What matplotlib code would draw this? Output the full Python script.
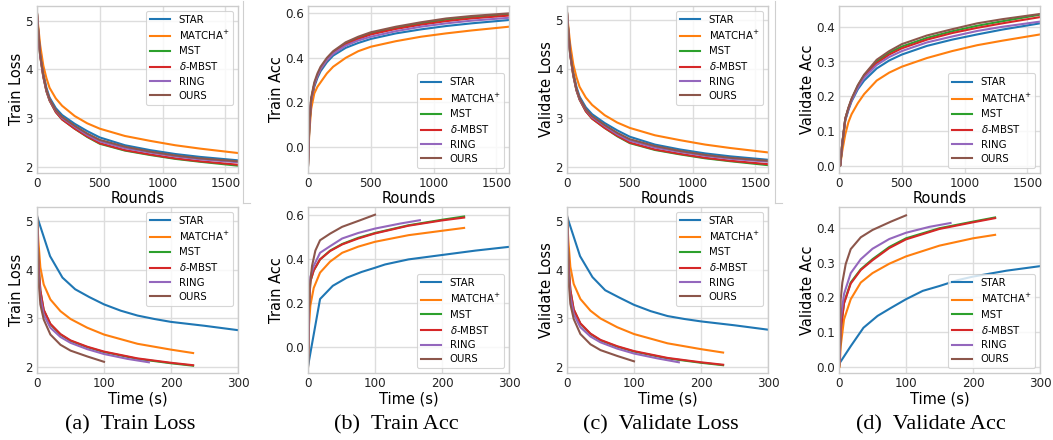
import matplotlib
matplotlib.use("Agg")
import matplotlib.pyplot as plt
from matplotlib.lines import Line2D

# ---------------- data ----------------
methods = ["STAR", "MATCHA", "MST", "MBST", "RING", "OURS"]
labels = ["STAR", "MATCHA$^{+}$", "MST", r"$\delta$-MBST", "RING", "OURS"]
colors = ["#1f77b4", "#ff7f0e", "#2ca02c", "#d62728", "#9467bd", "#8c564b"]

# top row: metric vs. communication rounds
rounds = [0, 10, 25, 50, 75, 100, 150, 200, 300, 400, 500, 700, 900, 1100, 1300, 1600]

train_loss_r = {
    "STAR":   [5.15, 4.80, 4.35, 3.92, 3.62, 3.42, 3.20, 3.06, 2.88, 2.73, 2.60, 2.44, 2.34, 2.26, 2.20, 2.13],
    "MATCHA": [5.15, 4.88, 4.50, 4.08, 3.82, 3.62, 3.40, 3.25, 3.04, 2.89, 2.78, 2.63, 2.53, 2.44, 2.37, 2.28],
    "MST":    [5.15, 4.75, 4.28, 3.85, 3.55, 3.36, 3.12, 2.97, 2.78, 2.61, 2.47, 2.33, 2.24, 2.16, 2.10, 2.02],
    "MBST":   [5.15, 4.75, 4.28, 3.85, 3.55, 3.36, 3.12, 2.97, 2.78, 2.62, 2.48, 2.34, 2.25, 2.17, 2.11, 2.04],
    "RING":   [5.15, 4.77, 4.30, 3.87, 3.57, 3.38, 3.15, 3.00, 2.82, 2.65, 2.52, 2.38, 2.29, 2.21, 2.15, 2.09],
    "OURS":   [5.15, 4.78, 4.31, 3.88, 3.58, 3.39, 3.16, 3.02, 2.84, 2.68, 2.55, 2.41, 2.31, 2.23, 2.17, 2.11],
}
train_acc_r = {
    "STAR":   [-0.085, 0.08, 0.20, 0.27, 0.31, 0.34, 0.38, 0.41, 0.445, 0.467, 0.485, 0.51, 0.528, 0.543, 0.555, 0.57],
    "MATCHA": [-0.085, 0.06, 0.17, 0.24, 0.27, 0.29, 0.33, 0.36, 0.40, 0.43, 0.45, 0.475, 0.495, 0.51, 0.523, 0.54],
    "MST":    [-0.085, 0.09, 0.21, 0.28, 0.32, 0.35, 0.39, 0.425, 0.465, 0.49, 0.51, 0.535, 0.555, 0.572, 0.583, 0.597],
    "MBST":   [-0.085, 0.09, 0.21, 0.28, 0.32, 0.35, 0.39, 0.42, 0.46, 0.485, 0.505, 0.53, 0.549, 0.565, 0.577, 0.59],
    "RING":   [-0.085, 0.09, 0.21, 0.28, 0.32, 0.35, 0.39, 0.418, 0.455, 0.478, 0.495, 0.52, 0.54, 0.555, 0.567, 0.58],
    "OURS":   [-0.085, 0.10, 0.22, 0.29, 0.33, 0.36, 0.40, 0.43, 0.47, 0.495, 0.515, 0.54, 0.56, 0.577, 0.588, 0.60],
}
val_loss_r = {
    "STAR":   [5.15, 4.80, 4.36, 3.93, 3.63, 3.43, 3.21, 3.07, 2.89, 2.74, 2.61, 2.45, 2.35, 2.27, 2.21, 2.14],
    "MATCHA": [5.15, 4.88, 4.51, 4.09, 3.83, 3.63, 3.41, 3.26, 3.05, 2.90, 2.79, 2.64, 2.54, 2.45, 2.38, 2.29],
    "MST":    [5.15, 4.75, 4.29, 3.86, 3.56, 3.37, 3.13, 2.98, 2.79, 2.62, 2.48, 2.34, 2.25, 2.17, 2.11, 2.03],
    "MBST":   [5.15, 4.75, 4.29, 3.86, 3.56, 3.37, 3.13, 2.98, 2.79, 2.63, 2.49, 2.35, 2.26, 2.18, 2.12, 2.05],
    "RING":   [5.15, 4.77, 4.31, 3.88, 3.58, 3.39, 3.16, 3.01, 2.83, 2.66, 2.53, 2.39, 2.30, 2.22, 2.16, 2.10],
    "OURS":   [5.15, 4.78, 4.32, 3.89, 3.59, 3.40, 3.17, 3.03, 2.85, 2.69, 2.56, 2.42, 2.32, 2.24, 2.18, 2.12],
}
val_acc_r = {
    "STAR":   [0.0, 0.0, 0.06, 0.13, 0.16, 0.185, 0.22, 0.245, 0.28, 0.303, 0.32, 0.345, 0.363, 0.378, 0.392, 0.41],
    "MATCHA": [0.0, 0.0, 0.04, 0.09, 0.125, 0.148, 0.18, 0.206, 0.245, 0.268, 0.285, 0.31, 0.33, 0.347, 0.36, 0.378],
    "MST":    [0.0, 0.0, 0.06, 0.135, 0.165, 0.19, 0.23, 0.26, 0.30, 0.325, 0.343, 0.368, 0.387, 0.403, 0.416, 0.435],
    "MBST":   [0.0, 0.0, 0.06, 0.135, 0.165, 0.19, 0.228, 0.258, 0.295, 0.32, 0.338, 0.363, 0.382, 0.397, 0.41, 0.428],
    "RING":   [0.0, 0.0, 0.06, 0.133, 0.163, 0.188, 0.225, 0.253, 0.29, 0.313, 0.33, 0.355, 0.372, 0.388, 0.40, 0.415],
    "OURS":   [0.0, 0.0, 0.06, 0.135, 0.167, 0.193, 0.232, 0.262, 0.305, 0.33, 0.35, 0.375, 0.393, 0.41, 0.422, 0.437],
}

# bottom row: metric vs. wall-clock time (s)
time_loss = {
    "STAR":   [0, 19.5, 38, 57, 78, 100, 125, 150, 175, 200, 250, 300],
    "MATCHA": [0, 2, 5, 10, 20, 35, 50, 75, 100, 150, 200, 233],
    "MST":    [0, 1, 2.5, 5, 10, 20, 35, 50, 75, 100, 150, 200, 233],
    "MBST":   [0, 1, 2.5, 5, 10, 20, 35, 50, 75, 100, 150, 200, 233],
    "RING":   [0, 1, 2.5, 5, 10, 20, 35, 50, 75, 100, 135, 167],
    "OURS":   [0, 1, 2.5, 5, 10, 20, 35, 50, 75, 100],
}
train_loss_t = {
    "STAR":   [5.10, 4.28, 3.84, 3.60, 3.44, 3.29, 3.16, 3.06, 2.99, 2.93, 2.85, 2.76],
    "MATCHA": [5.10, 4.60, 4.05, 3.70, 3.39, 3.15, 2.99, 2.81, 2.67, 2.48, 2.36, 2.29],
    "MST":    [5.10, 4.67, 4.05, 3.57, 3.17, 2.88, 2.67, 2.54, 2.41, 2.31, 2.17, 2.08, 2.03],
    "MBST":   [5.10, 4.67, 4.06, 3.58, 3.18, 2.89, 2.68, 2.55, 2.42, 2.32, 2.18, 2.09, 2.04],
    "RING":   [5.10, 4.55, 3.90, 3.45, 3.08, 2.81, 2.62, 2.50, 2.37, 2.27, 2.17, 2.10],
    "OURS":   [5.10, 4.40, 3.75, 3.29, 2.98, 2.67, 2.46, 2.34, 2.22, 2.11],
}
val_loss_t = {
    "STAR":   [5.10, 4.28, 3.85, 3.58, 3.43, 3.28, 3.15, 3.05, 2.99, 2.94, 2.86, 2.77],
    "MATCHA": [5.10, 4.60, 4.06, 3.71, 3.40, 3.16, 3.00, 2.82, 2.68, 2.49, 2.37, 2.30],
    "MST":    [5.10, 4.67, 4.06, 3.58, 3.18, 2.89, 2.68, 2.55, 2.42, 2.32, 2.18, 2.09, 2.04],
    "MBST":   [5.10, 4.67, 4.07, 3.59, 3.19, 2.90, 2.69, 2.56, 2.43, 2.33, 2.19, 2.10, 2.05],
    "RING":   [5.10, 4.55, 3.91, 3.46, 3.09, 2.82, 2.63, 2.51, 2.38, 2.28, 2.18, 2.10],
    "OURS":   [5.10, 4.40, 3.76, 3.30, 2.99, 2.68, 2.47, 2.35, 2.23, 2.12],
}
time_tacc = {
    "STAR":   [0, 18, 37, 58, 80, 100, 115, 150, 200, 250, 300],
    "MATCHA": [0, 1.5, 3.5, 8.5, 18, 33, 51, 75, 100, 150, 200, 233],
    "MST":    [0, 1.5, 3.5, 8.5, 18, 33, 51, 75, 100, 150, 200, 233],
    "MBST":   [0, 1.5, 3.5, 8.5, 18, 33, 51, 75, 100, 150, 200, 233],
    "RING":   [0, 1.5, 3.5, 8.5, 18, 33, 51, 75, 100, 138, 167],
    "OURS":   [0, 1, 2.5, 6, 11, 18, 33, 51, 78, 100],
}
train_acc_t = {
    "STAR":   [-0.086, 0.22, 0.28, 0.317, 0.343, 0.362, 0.377, 0.40, 0.42, 0.44, 0.457],
    "MATCHA": [-0.086, 0.10, 0.19, 0.27, 0.34, 0.39, 0.43, 0.458, 0.48, 0.51, 0.53, 0.543],
    "MST":    [-0.086, 0.18, 0.30, 0.35, 0.40, 0.44, 0.47, 0.498, 0.52, 0.555, 0.58, 0.595],
    "MBST":   [-0.086, 0.18, 0.30, 0.35, 0.40, 0.438, 0.468, 0.495, 0.518, 0.553, 0.577, 0.59],
    "RING":   [-0.086, 0.20, 0.32, 0.37, 0.43, 0.46, 0.495, 0.52, 0.54, 0.563, 0.578],
    "OURS":   [-0.086, 0.15, 0.27, 0.37, 0.44, 0.487, 0.517, 0.548, 0.578, 0.603],
}
time_vacc = {
    "STAR":   [0, 1.5, 17.5, 36.5, 57.5, 77.5, 100, 125, 150, 177.5, 200, 250, 300],
    "MATCHA": [0, 1, 2.5, 7.5, 17.5, 32.5, 50, 75, 100, 150, 200, 233],
    "MST":    [0, 1, 2.5, 7.5, 17.5, 32.5, 50, 75, 100, 150, 200, 233],
    "MBST":   [0, 1, 2.5, 7.5, 17.5, 32.5, 50, 75, 100, 150, 200, 233],
    "RING":   [0, 1, 2.5, 7.5, 17.5, 32.5, 50, 75, 100, 135, 166.5],
    "OURS":   [0, 1, 2.5, 5, 10, 17.5, 32.5, 50, 77.5, 100],
}
val_acc_t = {
    "STAR":   [0.0, 0.013, 0.06, 0.113, 0.147, 0.17, 0.195, 0.219, 0.233, 0.25, 0.26, 0.277, 0.29],
    "MATCHA": [0.0, 0.0, 0.06, 0.137, 0.195, 0.243, 0.27, 0.297, 0.318, 0.349, 0.37, 0.38],
    "MST":    [0.0, 0.02, 0.108, 0.185, 0.243, 0.281, 0.31, 0.345, 0.37, 0.399, 0.418, 0.43],
    "MBST":   [0.0, 0.02, 0.105, 0.183, 0.24, 0.279, 0.307, 0.342, 0.367, 0.397, 0.416, 0.428],
    "RING":   [0.0, 0.03, 0.137, 0.21, 0.27, 0.31, 0.34, 0.368, 0.386, 0.403, 0.414],
    "OURS":   [0.0, 0.06, 0.195, 0.243, 0.296, 0.339, 0.373, 0.394, 0.418, 0.436],
}

captions = ["(a)  Train Loss", "(b)  Train Acc", "(c)  Validate Loss", "(d)  Validate Acc"]

# ---------------- style ----------------
plt.rcParams["font.family"] = "DejaVu Sans"
plt.rcParams["mathtext.fontset"] = "dejavusans"

fig = plt.figure(figsize=(10.53, 4.4), dpi=100)
W, H = 1053.0, 440.0

lefts = [37, 308, 567, 839]
top_row = (6, 172.5)
bot_row = (207, 373)


def make_ax(x0, rows):
    y0, y1 = rows
    ax = fig.add_axes([x0 / W, 1 - y1 / H, 201 / W, (y1 - y0) / H])
    ax.grid(True, color="#dddddd", linewidth=1.0)
    ax.set_axisbelow(True)
    for s in ax.spines.values():
        s.set_color("#cccccc")
        s.set_linewidth(1.0)
    ax.tick_params(length=0, labelsize=8.6, pad=3, colors="#222222")
    return ax


def draw(ax, xs, ys, loc):
    for m, lab, c in zip(methods, labels, colors):
        x = xs[m] if isinstance(xs, dict) else xs
        ax.plot(x, ys[m], color=c, lw=1.5, label=lab)
    leg = ax.legend(loc=loc, fontsize=7.3, frameon=True, fancybox=True,
                    borderaxespad=0.45, labelspacing=0.42)
    leg.get_frame().set_edgecolor("#cccccc")
    leg.get_frame().set_linewidth(0.8)


panels_top = [
    (train_loss_r, "Train Loss", (1.88, 5.3), [2, 3, 4, 5], ["2", "3", "4", "5"], "upper right"),
    (train_acc_r, "Train Acc", (-0.115, 0.633), [0.0, 0.2, 0.4, 0.6], ["0.0", "0.2", "0.4", "0.6"], "lower right"),
    (val_loss_r, "Validate Loss", (1.88, 5.28), [2, 3, 4, 5], ["2", "3", "4", "5"], "upper right"),
    (val_acc_r, "Validate Acc", (-0.02, 0.46), [0.0, 0.1, 0.2, 0.3, 0.4], ["0.0", "0.1", "0.2", "0.3", "0.4"], "lower right"),
]
panels_bot = [
    (time_loss, train_loss_t, "Train Loss", (1.88, 5.29), [2, 3, 4, 5], ["2", "3", "4", "5"], "upper right"),
    (time_tacc, train_acc_t, "Train Acc", (-0.116, 0.638), [0.0, 0.2, 0.4, 0.6], ["0.0", "0.2", "0.4", "0.6"], "lower right"),
    (time_loss, val_loss_t, "Validate Loss", (1.88, 5.29), [2, 3, 4, 5], ["2", "3", "4", "5"], "upper right"),
    (time_vacc, val_acc_t, "Validate Acc", (-0.017, 0.46), [0.0, 0.1, 0.2, 0.3, 0.4], ["0.0", "0.1", "0.2", "0.3", "0.4"], "lower right"),
]

for i, (ys, ylab, ylim, yt, ytl, loc) in enumerate(panels_top):
    ax = make_ax(lefts[i], top_row)
    draw(ax, rounds, ys, loc)
    ax.set_xlim(0, 1600)
    ax.set_ylim(*ylim)
    ax.set_xticks([0, 500, 1000, 1500])
    ax.set_yticks(yt)
    ax.set_yticklabels(ytl)
    ax.set_xlabel("Rounds", fontsize=10.5, labelpad=1)
    ax.set_ylabel(ylab, fontsize=10.5, labelpad=1)

for i, (xs, ys, ylab, ylim, yt, ytl, loc) in enumerate(panels_bot):
    ax = make_ax(lefts[i], bot_row)
    draw(ax, xs, ys, loc)
    ax.set_xlim(0, 300)
    ax.set_ylim(*ylim)
    ax.set_xticks([0, 100, 200, 300])
    ax.set_yticks(yt)
    ax.set_yticklabels(ytl)
    ax.set_xlabel("Time (s)", fontsize=10.5, labelpad=1)
    ax.set_ylabel(ylab, fontsize=10.5, labelpad=1)

# sub-figure captions
cap_x = [130, 396, 661, 931]
for cx, txt in zip(cap_x, captions):
    fig.text(cx / W, 1 - 425 / H, txt, ha="center", va="center", fontsize=16,
             family=["Liberation Serif", "DejaVu Serif"])

# faint frame remnants between sub-figures
for xe in (243, 775):
    fig.add_artist(Line2D([xe / W, xe / W], [1 - 1 / H, 1 - 203 / H],
                          color="#cfcfcf", lw=0.8, transform=fig.transFigure))
    fig.add_artist(Line2D([xe / W, (xe + 7) / W], [1 - 203 / H, 1 - 203 / H],
                          color="#cfcfcf", lw=0.8, transform=fig.transFigure))

fig.savefig("out.png", dpi=100)
